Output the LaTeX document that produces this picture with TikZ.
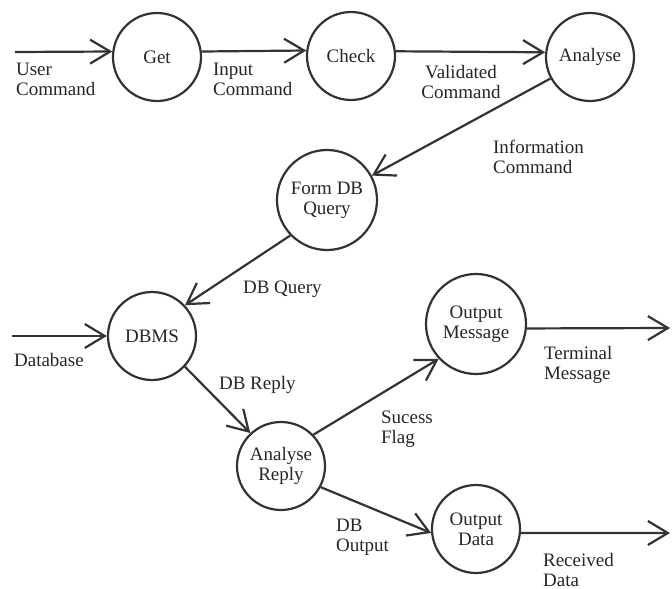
\documentclass[tikz,border=0pt]{standalone}
\usepackage{fontspec}
\setmainfont{Liberation Serif}
\usetikzlibrary{arrows.meta}

\begin{document}
\begin{tikzpicture}[x=1pt,y=-1pt,line width=2.2pt,draw=black!80,
    every node/.style={text=black!85,font=\fontsize{19}{20}\selectfont},
    proc/.style={circle,draw,minimum size=88pt,inner sep=1pt,align=center},
    flow/.style={-{Straight Barb[length=20pt,width=24pt]}},
    lbl/.style={anchor=north west,align=left,inner sep=0pt}]
    \useasboundingbox (0,0) rectangle (672,589);
    % processes
    \node [proc] (get) at (157,57) {Get};
    \node [proc] (check) at (351,56) {Check};
    \node [proc] (analyse) at (590,57) {Analyse};
    \node [proc,minimum size=100pt] (formdb) at (327,200) {Form DB\\Query};
    \node [proc] (dbms) at (152,336) {DBMS};
    \node [proc,minimum size=100pt] (outmsg) at (476,324) {Output\\Message};
    \node [proc] (anreply) at (281,466) {Analyse\\Reply};
    \node [proc] (outdata) at (476,529) {Output\\Data};
    % free ends
    \coordinate (userin) at (15,52);
    \coordinate (dbin) at (12,336);
    \coordinate (msgout) at (670,328);
    \coordinate (dataout) at (670,533);
    % flows
    \draw [flow] (userin) -- (get.173);
    \draw [flow] (get.7) -- (check.173);
    \draw [flow] (check.6) -- (analyse.174);
    \draw [flow] (analyse) -- (formdb);
    \draw [flow] (formdb.224) -- (dbms.43);
    \draw [flow] (dbin) -- (dbms);
    \draw [flow] (dbms.-43) -- (anreply.133);
    \draw [flow] (anreply.44) -- (outmsg.223);
    \draw [flow] (anreply.-28) -- (outdata.185);
    \draw [flow] (outmsg.-5) -- (msgout);
    \draw [flow] (outdata.-5) -- (dataout);
    % flow labels
    \node [lbl] (lbuser) at (15,62) {User\\Command};
    \node [lbl] (lbinput) at (212,62) {Input\\Command};
    \node [lbl,anchor=north,align=center] (lbvalid) at (461,64) {Validated\\Command};
    \node [lbl] (lbinfo) at (492,139) {Information\\Command};
    \node [lbl] (lbquery) at (242,280) {DB Query};
    \node [lbl] (lbdatabase) at (13,352) {Database};
    \node [lbl] (lbreply) at (218,375) {DB Reply};
    \node [lbl] (lbflag) at (380,410) {Sucess\\Flag};
    \node [lbl] (lboutput) at (335,518) {DB\\Output};
    \node [lbl] (lbterm) at (543,345) {Terminal\\Message};
    \node [lbl] (lbrecv) at (542,552) {Received\\Data};
\end{tikzpicture}
\end{document}
